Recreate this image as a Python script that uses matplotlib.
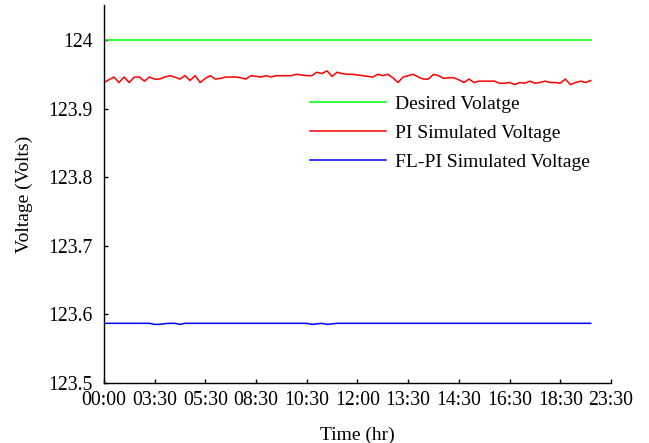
import matplotlib
matplotlib.use("Agg")
import matplotlib.pyplot as plt
import numpy as np

plt.rcParams['font.family'] = ['Liberation Serif', 'DejaVu Serif']

# 15-minute samples over the day (index 0..96)
desired = [124.0] * 97

pi_volt = [
    123.938, 123.942, 123.946, 123.938, 123.946, 123.938, 123.946, 123.946, 123.940, 123.946,
    123.943, 123.943, 123.946, 123.948, 123.946, 123.943, 123.948, 123.941, 123.948, 123.938,
    123.944, 123.948, 123.943, 123.944, 123.946, 123.946, 123.946, 123.945, 123.943, 123.948,
    123.947, 123.946, 123.948, 123.946, 123.948, 123.948, 123.948, 123.948, 123.950, 123.949,
    123.948, 123.948, 123.953, 123.951, 123.955, 123.947, 123.953, 123.951, 123.950, 123.950,
    123.949, 123.948, 123.947, 123.946, 123.950, 123.948, 123.950, 123.945, 123.938, 123.946,
    123.948, 123.950, 123.946, 123.943, 123.943, 123.950, 123.948, 123.944, 123.945, 123.945,
    123.942, 123.938, 123.943, 123.938, 123.940, 123.940, 123.940, 123.940, 123.937, 123.937,
    123.938, 123.935, 123.938, 123.937, 123.940, 123.937, 123.938, 123.940, 123.938, 123.938,
    123.937, 123.943, 123.935, 123.938, 123.940, 123.938, 123.941,
]

flpi_volt = [123.587] * 97
for i, v in [(10, 123.5855), (11, 123.5855), (12, 123.5865), (15, 123.5855),
             (41, 123.5855), (42, 123.5862), (44, 123.5855), (45, 123.5862)]:
    flpi_volt[i] = v

tick_pos = list(range(0, 101, 10))
tick_labels = ['00:00', '03:30', '05:30', '08:30', '10:30', '12:00',
               '13:30', '14:30', '16:30', '18:30', '23:30']
y_ticks = [123.5, 123.6, 123.7, 123.8, 123.9, 124.0]
y_labels = ['123.5', '123.6', '123.7', '123.8', '123.9', '124']

x = np.arange(len(desired))

fig = plt.figure(figsize=(6.49, 4.43), dpi=100)
ax = fig.add_axes([0.160, 0.1354, 0.7815, 0.8533])

ax.plot(x, desired, color='#00ff00', lw=1.1, label='Desired Volatge')
ax.plot(x, pi_volt, color='#ff0000', lw=1.1, label='PI Simulated Voltage')
ax.plot(x, flpi_volt, color='#0000ff', lw=1.1, label='FL-PI Simulated Voltage')

ax.set_xlim(0, 100)
ax.set_ylim(123.5, 124.051)
ax.set_xticks(tick_pos)
ax.set_xticklabels(tick_labels)
ax.set_yticks(y_ticks)
ax.set_yticklabels(y_labels)

ax.spines['top'].set_visible(False)
ax.spines['right'].set_visible(False)
ax.spines['left'].set_linewidth(1.0)
ax.spines['bottom'].set_linewidth(1.0)
ax.tick_params(direction='in', length=3, width=1.0, labelsize=14.2)
ax.tick_params(axis='y', pad=8)
ax.tick_params(axis='x', pad=6)

ax.set_xlabel('Time (hr)', fontsize=14, labelpad=12)
ax.set_ylabel('Voltage (Volts)', fontsize=14, labelpad=11)

ax.legend(loc='center left', bbox_to_anchor=(0.391, 0.661), frameon=False,
          fontsize=14, handlelength=3.9, handletextpad=0.5, labelspacing=0.58,
          borderaxespad=0)

fig.savefig('out.png', dpi=100)
